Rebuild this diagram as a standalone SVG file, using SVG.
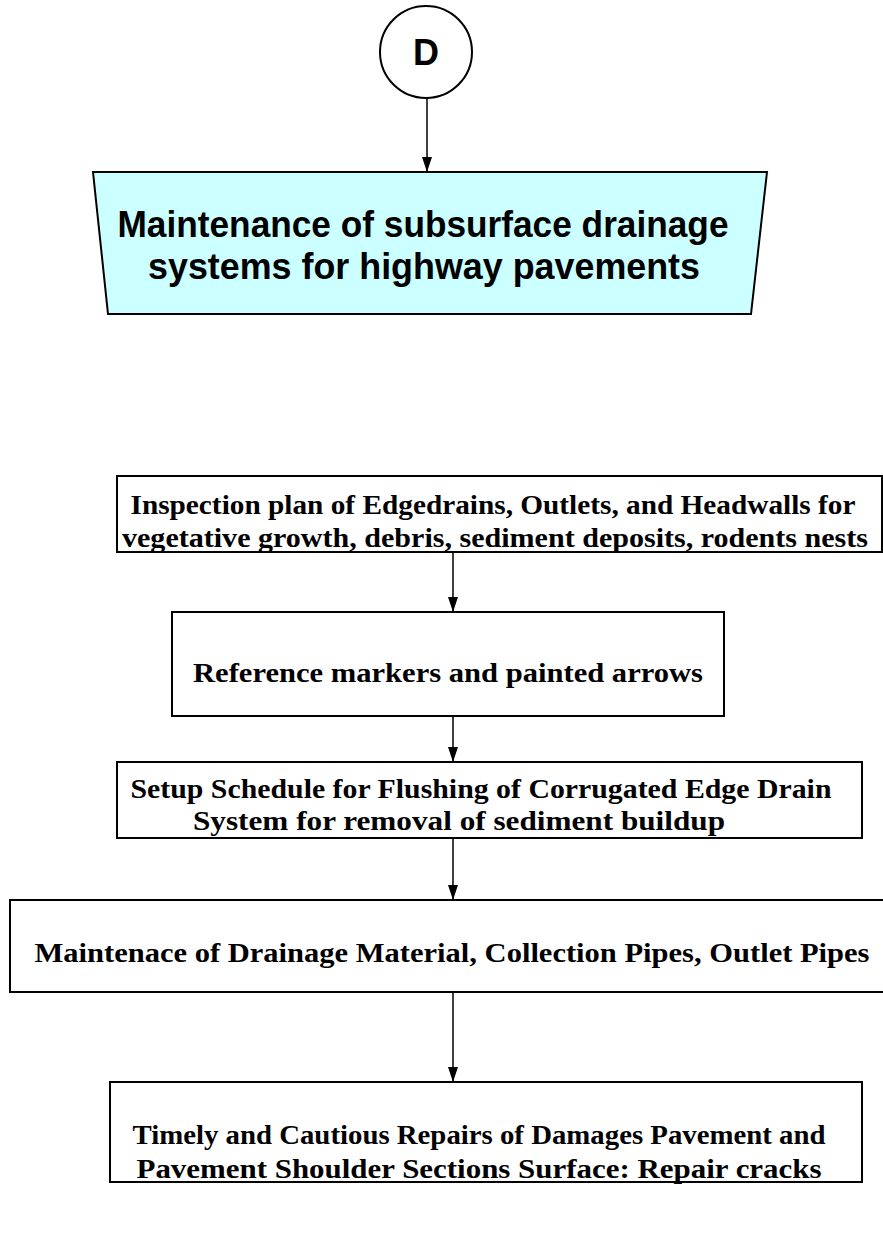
<svg xmlns="http://www.w3.org/2000/svg" width="883" height="1239" viewBox="0 0 883 1239">
<style>
.box{fill:#ffffff;stroke:#000;stroke-width:2}
.title{font-family:"Liberation Sans",Arial,sans-serif;font-weight:bold;font-size:36px;fill:#000}
.t{font-family:"Liberation Serif","Times New Roman",serif;font-weight:bold;font-size:28px;fill:#000}
.conn{stroke:#000;stroke-width:1.5;fill:none}
</style>
<defs>
<marker id="arr" viewBox="0 0 15 10" refX="15" refY="5" markerWidth="15" markerHeight="10" markerUnits="userSpaceOnUse" orient="auto">
<path d="M0,0 L15,5 L0,10 Z" fill="#000"/>
</marker>
</defs>
<rect width="883" height="1239" fill="#fff"/>
<g id="connectors">
<line class="conn" x1="427" y1="98" x2="427" y2="172" marker-end="url(#arr)"/>
<line class="conn" x1="453" y1="552" x2="453" y2="612" marker-end="url(#arr)"/>
<line class="conn" x1="453" y1="716" x2="453" y2="762" marker-end="url(#arr)"/>
<line class="conn" x1="453" y1="838" x2="453" y2="900" marker-end="url(#arr)"/>
<line class="conn" x1="453" y1="992" x2="453" y2="1082" marker-end="url(#arr)"/>
</g>
<g id="node-D">
<circle cx="426" cy="52" r="46" fill="#fff" stroke="#000" stroke-width="2"/>
<text class="title" x="426" y="65" text-anchor="middle">D</text>
</g>
<g id="node-title">
<polygon points="93,172 767,172 751,314 108,314" fill="#ccffff" stroke="#000" stroke-width="2"/>
<text class="title" x="423" y="237" text-anchor="middle" textLength="611" lengthAdjust="spacingAndGlyphs">Maintenance of subsurface drainage</text>
<text class="title" x="424" y="279" text-anchor="middle" textLength="552" lengthAdjust="spacingAndGlyphs">systems for highway pavements</text>
</g>
<g id="node-inspection">
<rect class="box" x="117" y="476" width="765" height="76"/>
<text class="t" x="493" y="514" text-anchor="middle" textLength="725" lengthAdjust="spacingAndGlyphs">Inspection plan of Edgedrains, Outlets, and Headwalls for</text>
<text class="t" x="495" y="547" text-anchor="middle" textLength="746" lengthAdjust="spacingAndGlyphs">vegetative growth, debris, sediment deposits, rodents nests</text>
</g>
<g id="node-reference">
<rect class="box" x="172" y="612" width="552" height="104"/>
<text class="t" x="448" y="682" text-anchor="middle" textLength="510" lengthAdjust="spacingAndGlyphs">Reference markers and painted arrows</text>
</g>
<g id="node-flushing">
<rect class="box" x="117" y="762" width="745" height="76"/>
<text class="t" x="481" y="798" text-anchor="middle" textLength="701" lengthAdjust="spacingAndGlyphs">Setup Schedule for Flushing of Corrugated Edge Drain</text>
<text class="t" x="459" y="830" text-anchor="middle" textLength="532" lengthAdjust="spacingAndGlyphs">System for removal of sediment buildup</text>
</g>
<g id="node-maintenance">
<rect class="box" x="10" y="900" width="880" height="92"/>
<text class="t" x="452" y="962" text-anchor="middle" textLength="835" lengthAdjust="spacingAndGlyphs">Maintenace of Drainage Material, Collection Pipes, Outlet Pipes</text>
</g>
<g id="node-repairs">
<rect class="box" x="110" y="1082" width="752" height="100"/>
<text class="t" x="479" y="1144" text-anchor="middle" textLength="693" lengthAdjust="spacingAndGlyphs">Timely and Cautious Repairs of Damages Pavement and</text>
<text class="t" x="479" y="1178" text-anchor="middle" textLength="685" lengthAdjust="spacingAndGlyphs">Pavement Shoulder Sections Surface:  Repair cracks</text>
</g>
</svg>
